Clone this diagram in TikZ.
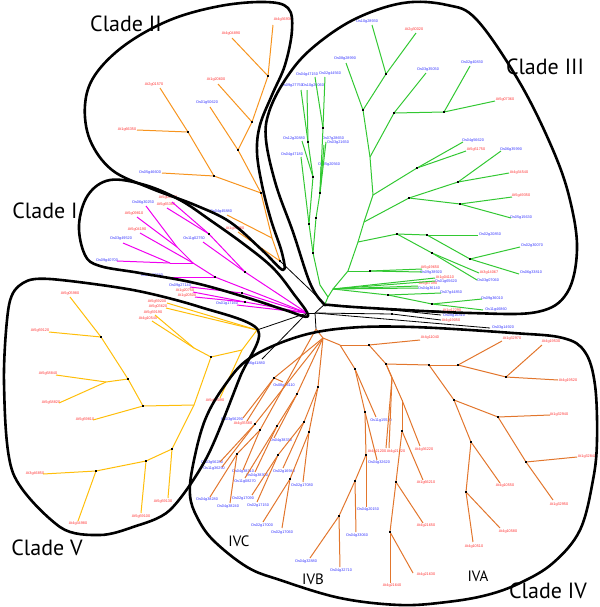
\documentclass[tikz,border=0pt]{standalone}
\usepackage{fontspec}
\setmainfont{Liberation Sans}
\newfontfamily\cladefont{PT Sans}
\definecolor{cII}{RGB}{247,148,30}
\definecolor{cIV}{RGB}{226,118,45}
\definecolor{cV}{RGB}{255,190,10}
\definecolor{cIII}{RGB}{50,200,50}
\definecolor{cI}{RGB}{240,0,240}
\definecolor{lr}{RGB}{255,50,50}
\definecolor{lb}{RGB}{50,50,255}
\newcommand{\mypt}[2]{\coordinate (#1) at (#2);}
\newcommand{\myleaf}[5]{\coordinate (#1) at (#2); \node[lbl,text=#4] (#1-t) at (#3) {#5};}
\tikzset{
  lbl/.style={inner sep=0pt,font=\fontsize{1.9}{2}\selectfont},
  dotst/.style={rectangle,fill=black,inner sep=0pt,minimum size=1.4pt},
  br/.style={line width=0.5pt},
  outl/.style={line width=1.3pt,black,line join=round},
  cladelbl/.style={inner sep=0pt,font=\cladefont\fontsize{11}{12}\selectfont},
  sublbl/.style={inner sep=0pt,font=\cladefont\fontsize{7.5}{8}\selectfont}
}
\begin{document}
\begin{tikzpicture}[x=0.5pt,y=-0.5pt]
\useasboundingbox (0,0) rectangle (600,607);
% ---------- central ----------
\mypt{J1}{307,313}\mypt{Jc}{315,313}\mypt{J3}{325,304}\mypt{J4}{316,329}
\mypt{K1}{392,310}\mypt{K2}{392,314}
\myleaf{bk0}{262,359}{254,364}{lb}{Os06g41880}
\myleaf{bk1}{441,311}{452,311}{lr}{At1g12290}
\myleaf{bk2}{441,315}{454,316}{lb}{Os08g16810}
\myleaf{bk3}{441,320}{451,321}{lr}{At4g19050}
\myleaf{bk4}{490,328}{503,328}{lb}{Os03g14920}
% ---------- Clade II ----------
\mypt{A}{268,76}\mypt{B}{252,122}\mypt{C}{238,150}\mypt{E}{188,132}
\mypt{D}{214,176}\mypt{F}{261,193}\mypt{H}{272,238}\mypt{G}{280,261}
\myleaf{o1}{273,25}{283,20}{lr}{At4g36930}
\myleaf{o2}{232,38}{231,34}{lr}{At4g04890}
\myleaf{o3}{218,84}{216,80}{lr}{At1g20600}
\myleaf{o4}{210,107}{207,103}{lb}{Os01g50620}
\myleaf{o5}{162,173}{150,173}{lb}{Os05g46600}
\myleaf{o6}{160,88}{154,85}{lr}{At2g01570}
\myleaf{o7}{137,130}{127,130}{lr}{At1g66350}
\myleaf{o8}{227,215}{221,212}{lb}{Os04g45880}
\myleaf{o9}{238,232}{235,229}{lr}{At1g37980}
% ---------- Clade I ----------
\mypt{M1}{209,234}\mypt{M2}{245,272}\mypt{M3}{215,277}\mypt{M4}{242,293}
\mypt{M5}{245,302}\mypt{M6}{177,247}\mypt{M8}{170,263}\mypt{M9}{193,263}
\myleaf{m1}{172,202}{168,198}{lr}{At5g09330}
\myleaf{m2}{146,206}{143,203}{lb}{Os06g30250}
\myleaf{m3}{167,208}{166,205}{lr}{At5g65380}
\myleaf{m4}{137,217}{134,214}{lr}{At5g09810}
\myleaf{m5}{140,233}{137,230}{lr}{At5g04190}
\myleaf{m6}{123,243}{121,239}{lb}{Os03g49520}
\myleaf{m7}{117,261}{107,261}{lb}{Os09g40700}
\myleaf{m8}{203,242}{194,239}{lb}{Os11g02750}
\myleaf{m9}{163,277}{152,276}{lb}{Os01g50580}
\myleaf{m10}{190,287}{180,286}{lb}{Os09g27140}
\myleaf{m11}{193,292}{185,291}{lr}{At1g20750}
\myleaf{m12}{195,297}{187,296}{lr}{At1g20500}
\myleaf{m13}{237,305}{227,304}{lb}{Os01g17160}
% ---------- Clade V ----------
\mypt{V0}{257,330}\mypt{Ya}{242,350}\mypt{Yb}{194,348}
\mypt{Y1}{101,337}\mypt{Y2}{106,382}\mypt{Y3}{128,379}\mypt{Y4}{143,406}
\mypt{Y5}{194,405}\mypt{Y6}{211,357}\mypt{Y7}{172,449}\mypt{Y8}{146,461}\mypt{Y9}{96,471}
\myleaf{y1}{70,297}{70,294}{lr}{At5g05980}
\myleaf{y2}{49,332}{40,331}{lr}{At5g59120}
\myleaf{y3}{56,375}{48,374}{lr}{At5g58840}
\myleaf{y4}{59,403}{51,403}{lr}{At5g58820}
\myleaf{y5}{93,420}{85,420}{lr}{At5g59810}
\myleaf{y6}{43,474}{35,474}{lr}{At3g46850}
\myleaf{y7}{78,521}{78,524}{lr}{At4g34980}
\myleaf{y8}{141,513}{141,517}{lr}{At5g59100}
\myleaf{y9}{168,498}{163,502}{lr}{At5g59130}
\myleaf{y10}{220,398}{215,401}{lr}{At5g59090}
\myleaf{y11}{167,303}{157,302}{lr}{At5g59200}
\myleaf{y12}{166,308}{158,307}{lr}{At5g03620}
\myleaf{y13}{155,315}{153,313}{lr}{At5g59190}
\myleaf{y14}{152,321}{148,319}{lr}{At4g10540}
% ---------- Clade III ----------
\mypt{N1}{386,74}\mypt{N2}{363,110}\mypt{N3}{394,113}\mypt{N4}{370,157}\mypt{N5}{444,112}
\mypt{T1}{373,195}\mypt{N6}{417,168}\mypt{T2}{364,222}\mypt{N7}{409,198}\mypt{N8}{458,182}
\mypt{N9}{460,204}\mypt{T3}{358,242}\mypt{N10}{397,234}\mypt{N11}{427,235}\mypt{N12}{470,259}
\mypt{N13}{432,253}\mypt{T4}{348,271}\mypt{N14}{370,271}\mypt{T5}{333,289}\mypt{N15}{388,295}
\mypt{N16}{432,304}\mypt{T6}{328,297}
\mypt{L0}{320,285}\mypt{N17}{313,253}\mypt{N18}{309,224}\mypt{N19}{316,218}\mypt{N20}{320,193}
\mypt{N21}{313,177}\mypt{N22}{308,142}\mypt{N23}{323,128}
\myleaf{g1}{372,25}{367,22}{lb}{Os10g28930}
\myleaf{g2}{416,33}{414,30}{lr}{At2g30020}
\myleaf{g3}{346,63}{345,59}{lb}{Os08g28990}
\myleaf{g4}{426,73}{428,70}{lb}{Os03g35050}
\myleaf{g5}{470,66}{472,63}{lb}{Os02g40830}
\myleaf{g6}{495,101}{505,100}{lr}{At5g07360}
\myleaf{g7}{463,142}{473,141}{lb}{Os04g56620}
\myleaf{g8}{466,151}{476,150}{lr}{At5g51750}
\myleaf{g9}{501,151}{511,150}{lb}{Os06g35990}
\myleaf{g10}{509,173}{519,173}{lr}{At4g34540}
\myleaf{g11}{512,197}{521,196}{lr}{At5g49350}
\myleaf{g12}{511,218}{521,218}{lb}{Os05g15630}
\myleaf{g13}{478,235}{490,235}{lb}{Os02g20850}
\myleaf{g14}{520,247}{532,246}{lb}{Os02g30070}
\myleaf{g15}{519,274}{531,273}{lb}{Os06g33810}
\myleaf{g16}{479,273}{489,273}{lr}{At3g14067}
\myleaf{g17}{477,280}{488,281}{lb}{Os03g07060}
\myleaf{g18}{422,269}{430,268}{lr}{At5g19650}
\myleaf{g19}{422,272}{431,273}{lb}{Os09g38920}
\myleaf{g20}{435,278}{445,278}{lr}{At1g04110}
\myleaf{g21}{435,281}{446,282}{lb}{Os01g65620}
\myleaf{g22}{418,286}{428,284}{lr}{At5g67090}
\myleaf{g23}{418,288}{429,289}{lb}{Os04g36140}
\myleaf{g24}{441,293}{451,293}{lb}{Os07g44850}
\myleaf{g25}{482,299}{492,299}{lb}{Os09g36010}
\myleaf{g26}{483,310}{496,310}{lb}{Os11g46860}
\myleaf{g27}{301,90}{292,86}{lb}{Os09g27750}
\myleaf{g28}{307,90}{313,86}{lb}{Os10g26060}
\myleaf{g29}{301,157}{292,155}{lb}{Os04g47180}
\myleaf{g30}{302,141}{294,139}{lb}{Os12g20880}
\myleaf{g31}{315,77}{307,75}{lb}{Os04g47150}
\myleaf{g32}{325,77}{330,74}{lb}{Os02g44560}
\myleaf{g33}{326,142}{333,139}{lb}{Os07g28650}
\myleaf{g34}{324,145}{338,143}{lb}{Os03g21650}
\myleaf{g35}{321,167}{329,165}{lb}{Os05g20560}
% ---------- Clade IV ----------
\mypt{P0}{323,338}\mypt{P1}{340,345}\mypt{P2}{369,345}\mypt{P3}{355,369}\mypt{P4}{386,364}
\mypt{P5}{429,365}\mypt{P7}{458,365}\mypt{P8}{454,400}\mypt{P9}{506,377}\mypt{P10}{498,417}
\mypt{P11}{526,462}\mypt{P12}{471,442}\mypt{P13}{466,492}
\mypt{Q1}{392,378}\mypt{Q2}{402,400}\mypt{Q3}{402,431}\mypt{Q4}{396,482}\mypt{Q5}{390,532}
\mypt{R1}{365,412}\mypt{R2}{366,455}\mypt{R3}{355,481}\mypt{R4}{339,516}
\mypt{U1}{274,378}\mypt{U2}{297,394}\mypt{U3}{318,387}\mypt{U4}{255,424}\mypt{U5}{237,454}
\mypt{U6}{260,430}\mypt{U7}{277,426}\mypt{U8}{304,422}\mypt{U9}{309,432}\mypt{U10}{278,455}
\mypt{U11}{290,479}
\myleaf{iv1}{420,340}{430,338}{lr}{At4g11040}
\myleaf{iv2}{386,448}{377,452}{lr}{At4g21200}
\myleaf{iv3}{389,448}{396,452}{lr}{At4g21220}
\myleaf{iv4}{420,446}{424,450}{lr}{At4g36220}
\myleaf{iv5}{423,480}{426,483}{lr}{At1g66210}
\myleaf{iv6}{423,523}{426,526}{lr}{At4g21650}
\myleaf{iv7}{390,583}{392,586}{lr}{At4g21640}
\myleaf{iv8}{413,573}{426,575}{lr}{At4g21630}
\myleaf{iv9}{502,341}{512,339}{lr}{At1g32970}
\myleaf{iv10}{542,345}{551,342}{lr}{At4g19530}
\myleaf{iv11}{558,380}{568,381}{lr}{At4g19520}
\myleaf{iv12}{550,415}{559,415}{lr}{At1g32940}
\myleaf{iv13}{577,457}{587,457}{lr}{At1g32840}
\myleaf{iv14}{553,500}{559,505}{lr}{At1g32950}
\myleaf{iv15}{500,483}{505,486}{lr}{At4g10550}
\myleaf{iv16}{473,542}{474,547}{lr}{At4g10510}
\myleaf{iv17}{500,528}{508,532}{lr}{At4g10580}
\myleaf{iv18}{376,417}{381,421}{lb}{Os11g15520}
\myleaf{iv19}{377,460}{379,463}{lb}{Os04g32620}
\myleaf{iv20}{366,507}{368,510}{lb}{Os04g20150}
\myleaf{iv21}{310,558}{306,562}{lb}{Os04g32880}
\myleaf{iv22}{340,567}{341,571}{lb}{Os04g32710}
\myleaf{iv23}{356,532}{357,536}{lb}{Os04g33060}
\myleaf{ca}{243,418}{232,420}{lb}{Os03g56290}
\myleaf{cb}{247,421}{243,424}{lr}{At4g35580}
\myleaf{cc}{283,382}{284,386}{lb}{Os08g36110}
\myleaf{cd}{220,462}{212,463}{lb}{Os03g56280}
\myleaf{ce}{222,467}{214,469}{lb}{Os11g36290}
\myleaf{cf}{210,497}{207,500}{lb}{Os04g38280}
\myleaf{cg}{230,503}{228,507}{lb}{Os04g38240}
\myleaf{ch}{243,470}{243,472}{lb}{Os04g38310}
\myleaf{ci}{255,472}{257,476}{lb}{Os04g38300}
\myleaf{cj}{245,478}{245,482}{lb}{Os11g08270}
\myleaf{ck}{274,438}{281,441}{lb}{Os04g38330}
\myleaf{cl}{252,495}{243,499}{lb}{Os02g17090}
\myleaf{cm}{257,502}{258,506}{lb}{Os02g17150}
\myleaf{cn}{283,468}{284,472}{lb}{Os02g16940}
\myleaf{co}{303,482}{302,486}{lb}{Os02g17080}
\myleaf{cp}{263,522}{262,526}{lb}{Os02g17000}
\myleaf{cq}{282,528}{282,533}{lb}{Os02g17060}
% ---------- branches ----------
\foreach \a/\b in {J1/Jc,Jc/J3,Jc/J4,G/J3,V0/J1,J1/bk0,J3/K1,Jc/K2,Jc/bk4,K1/bk1,K1/bk2,K2/bk3}
  \draw[br,line width=0.4pt,black] (\a) -- (\b);
\foreach \a/\b in {A/o1,A/o2,B/A,B/o3,C/B,C/o4,E/o6,E/o7,D/E,D/o5,F/C,F/D,H/F,H/o8,G/H,G/o9}
  \draw[br,cII] (\a) -- (\b);
\foreach \a/\b in {M1/m1,M1/m3,M2/M1,M2/m8,M6/m4,M6/m2,M8/m6,M8/m7,M9/M6,M9/M8,M9/m5,M3/m9,M3/M9,J1/M3,J1/M2,J1/M4,M4/m10,J1/M5,M5/m11,M5/m12,J1/m13}
  \draw[br,cI] (\a) -- (\b);
\foreach \a/\b in {V0/y11,V0/y12,V0/Ya,Ya/y10,Ya/Y6,Y6/Yb,Yb/y13,Yb/y14,Y6/Y5,Y5/Y4,Y4/Y3,Y4/y5,Y3/Y1,Y3/Y2,Y1/y1,Y1/y2,Y2/y3,Y2/y4,Y5/Y7,Y7/y9,Y7/Y8,Y8/y8,Y8/Y9,Y9/y6,Y9/y7}
  \draw[br,cV] (\a) -- (\b);
\foreach \a/\b in {J3/T6,T6/T5,T5/T4,T4/T3,T3/T2,T2/T1,T1/N4,N4/N2,N2/N1,N1/g1,N1/g2,N2/g3,N4/N3,N3/g4,N3/N5,N5/g5,N5/g6,T1/N6,N6/g7,N6/g8,T2/N7,N7/N8,N7/N9,N8/g9,N8/g10,N9/g11,N9/g12,T3/N10,N10/N11,N11/g13,N11/N12,N12/g14,N12/g15,N10/N13,N13/g16,N13/g17,T4/N14,N14/g18,N14/g19,T5/g20,T5/g21,T5/g22,T5/g23,T5/N15,N15/g24,N15/N16,N16/g25,N16/g26,T6/L0,L0/N17,N17/N18,N17/N19,N18/N21,N21/N22,N22/g27,N22/g28,N18/g29,N21/g30,N19/N20,N20/N23,N23/g31,N23/g32,N20/g33,N20/g34,N20/g35}
  \draw[br,cIII] (\a) -- (\b);
\foreach \a/\b in {J4/P0,P0/P1,P1/P2,P1/P3,P2/iv1,P2/P4,P4/P5,P4/Q1,Q1/iv2,Q1/iv3,P4/Q2,Q2/iv4,Q2/Q3,Q3/iv5,Q3/Q4,Q4/iv6,Q4/Q5,Q5/iv7,Q5/iv8,P5/P7,P7/iv9,P7/P9,P9/iv10,P9/iv11,P5/P8,P8/P10,P10/iv12,P10/P11,P11/iv13,P11/iv14,P8/P12,P12/iv15,P12/P13,P13/iv16,P13/iv17,P3/iv18,P3/R1,R1/iv19,R1/R2,R2/iv20,R2/R3,R3/R4,R4/iv21,R4/iv22,R3/iv23,P0/U1,U1/ca,U1/cb,U1/cc,P0/U4,U4/cd,U4/ce,J4/U6,U6/U5,U5/cf,U5/cg,U6/ch,P0/U2,U2/U7,U2/ck,U7/ci,U7/cj,P0/U3,U3/U8,U3/U9,U8/U10,U8/cn,U10/cl,U10/cm,U9/co,U9/U11,U11/cp,U11/cq}
  \draw[br,cIV] (\a) -- (\b);
% ---------- dots ----------
\foreach \n in {A,B,C,D,E,F,G,M1,M2,M3,M4,M5,Y1,Y3,Y4,Y6,Y7,Y8,Y9,K1,K2,N1,N2,N3,N5,N6,N7,N8,N9,N10,N11,N12,N13,N14,N15,N16,N17,N18,N19,N20,N21,N22,N23,P2,P3,P4,P5,P7,P8,P9,P10,P11,P12,P13,Q3,Q4,Q5,R1,R2,R3,R4,U1,U2,U3,U4,U5,U6,U7,U8,U9,U10,U11}
  \node[dotst] (\n-d) at (\n) {};
% ---------- outlines ----------
\draw[outl] plot[smooth cycle,tension=0.6] coordinates {(283,270) (262,250) (230,222) (195,205) (150,188) (112,170) (90,140) (85,105) (95,75) (125,45) (170,20) (220,6) (265,2) (288,8) (292,30) (285,65) (272,95) (260,125) (257,152) (262,185) (271,220) (282,253)};
\draw[outl] plot[smooth cycle,tension=0.6] coordinates {(308,316) (293,293) (273,268) (245,245) (210,220) (180,200) (145,185) (110,180) (88,195) (79,225) (85,255) (100,266) (140,273) (195,283) (245,297) (285,310)};
\draw[outl] plot[smooth cycle,tension=0.5] coordinates {(258,330) (240,377) (207,457) (170,510) (133,527) (100,535) (60,527) (13,473) (4,383) (9,305) (23,283) (50,279) (133,290) (200,307)};
\draw[outl] plot[smooth cycle,tension=0.6] coordinates {(323,303) (310,283) (293,232) (276,185) (266,140) (269,112) (285,80) (310,50) (353,20) (403,3) (447,5) (477,20) (520,83) (553,150) (570,200) (577,250) (567,293) (537,312) (470,313) (370,308) (330,305)};
\draw[outl] plot[smooth cycle,tension=0.6] coordinates {(340,598) (280,580) (247,567) (213,540) (197,517) (190,495) (193,465) (205,420) (225,385) (250,358) (297,337) (347,328) (413,327) (513,333) (563,338) (585,352) (595,385) (597,440) (593,480) (580,530) (553,563) (520,583) (487,595) (447,602) (400,605)};
% ---------- clade labels ----------
\node[cladelbl] (lII) at (126,24) {Clade II};
\node[cladelbl] (lIII) at (545,67) {Clade III};
\node[cladelbl] (lI) at (45,211) {Clade I};
\node[cladelbl] (lV) at (47,548) {Clade V};
\node[cladelbl] (lIV) at (548,591) {Clade IV};
\node[sublbl] (lIVC) at (239,541) {IVC};
\node[sublbl] (lIVB) at (313,579) {IVB};
\node[sublbl] (lIVA) at (478,576) {IVA};
\end{tikzpicture}
\end{document}
